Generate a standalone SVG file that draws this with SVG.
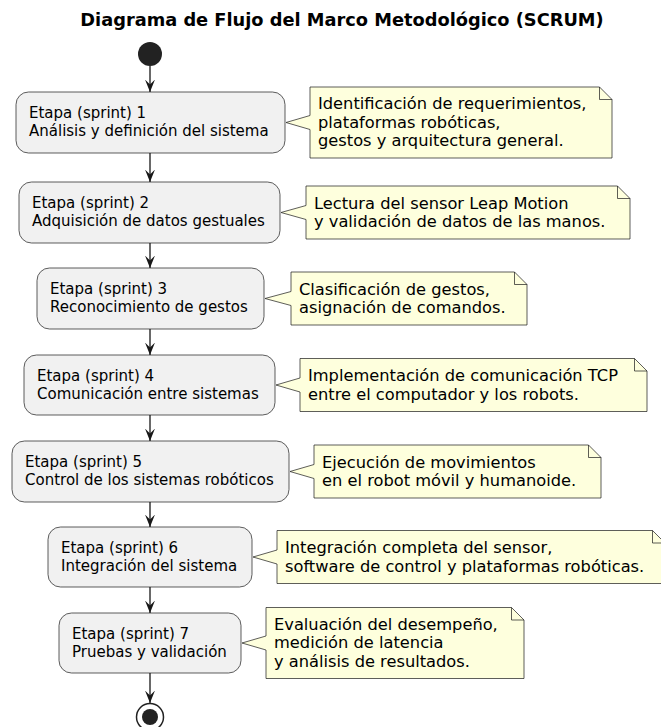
<svg xmlns="http://www.w3.org/2000/svg" width="661" height="727" viewBox="0 0 661 727">
<defs>
<style>
.title{font-family:"DejaVu Sans","Liberation Sans",sans-serif;font-size:17.8px;font-weight:bold;fill:#000}
.act{fill:#F1F1F1;stroke:#181818;stroke-width:0.7}
.at{font-family:"DejaVu Sans","Liberation Sans",sans-serif;font-size:15px;fill:#000}
.note{fill:#FEFFDD;stroke:#181818;stroke-width:0.7}
.nt{font-family:"DejaVu Sans","Liberation Sans",sans-serif;font-size:16.25px;fill:#000}
.fold{fill:none;stroke:#181818;stroke-width:0.7}
.edge{stroke:#181818;stroke-width:1.3;fill:none}
</style>
<marker id="ah" markerUnits="userSpaceOnUse" markerWidth="14" markerHeight="12" viewBox="0 0 14 12" refX="12.5" refY="6" orient="auto">
<path d="M0,1 L12.5,6 L0,11 L5,6 Z" fill="#181818"/>
</marker>
</defs>
<rect width="661" height="727" fill="#FFFFFF"/>
<text class="title" x="342" y="26" text-anchor="middle">Diagrama de Flujo del Marco Metodológico (SCRUM)</text>

<g id="start"><circle cx="150" cy="54" r="12" fill="#222222"/></g>

<g id="connectors">
<line class="edge" x1="150" y1="66" x2="150" y2="92" marker-end="url(#ah)"/>
<line class="edge" x1="150" y1="153" x2="150" y2="182" marker-end="url(#ah)"/>
<line class="edge" x1="150" y1="243" x2="150" y2="268" marker-end="url(#ah)"/>
<line class="edge" x1="150" y1="329" x2="150" y2="355" marker-end="url(#ah)"/>
<line class="edge" x1="150" y1="415" x2="150" y2="441" marker-end="url(#ah)"/>
<line class="edge" x1="150" y1="502" x2="150" y2="527" marker-end="url(#ah)"/>
<line class="edge" x1="150" y1="587" x2="150" y2="613" marker-end="url(#ah)"/>
<line class="edge" x1="150" y1="673" x2="150" y2="703" marker-end="url(#ah)"/>
</g>

<g id="sprint1">
<rect class="act" x="16" y="92" width="269" height="61" rx="12.5"/>
<text class="at" x="29" y="118">Etapa (sprint) 1</text>
<text class="at" x="29" y="136">Análisis y definición del sistema</text>
</g>
<g id="note1">
<path class="note" d="M310,87 L599.5,87 L612,99.5 L612,158 L310,158 L310,129.5 L286,122.5 L310,115.5 Z"/>
<path class="fold" d="M599.5,87 L599.5,99.5 L612,99.5"/>
<text class="nt" x="318" y="109">Identificación de requerimientos,</text>
<text class="nt" x="318" y="127.5">plataformas robóticas,</text>
<text class="nt" x="318" y="146">gestos y arquitectura general.</text>
</g>

<g id="sprint2">
<rect class="act" x="19" y="182" width="261" height="61" rx="12.5"/>
<text class="at" x="32" y="208">Etapa (sprint) 2</text>
<text class="at" x="32" y="226">Adquisición de datos gestuales</text>
</g>
<g id="note2">
<path class="note" d="M306,186 L617.5,186 L630,198.5 L630,239 L306,239 L306,219.5 L281,212.5 L306,205.5 Z"/>
<path class="fold" d="M617.5,186 L617.5,198.5 L630,198.5"/>
<text class="nt" x="314" y="208.5">Lectura del sensor Leap Motion</text>
<text class="nt" x="314" y="227">y validación de datos de las manos.</text>
</g>

<g id="sprint3">
<rect class="act" x="37" y="268" width="227" height="61" rx="12.5"/>
<text class="at" x="50" y="294">Etapa (sprint) 3</text>
<text class="at" x="50" y="312">Reconocimiento de gestos</text>
</g>
<g id="note3">
<path class="note" d="M291,272 L514.5,272 L527,284.5 L527,325 L291,325 L291,305.5 L265,298.5 L291,291.5 Z"/>
<path class="fold" d="M514.5,272 L514.5,284.5 L527,284.5"/>
<text class="nt" x="299" y="294.5">Clasificación de gestos,</text>
<text class="nt" x="299" y="313">asignación de comandos.</text>
</g>

<g id="sprint4">
<rect class="act" x="24" y="355" width="251" height="60" rx="12.5"/>
<text class="at" x="37" y="381">Etapa (sprint) 4</text>
<text class="at" x="37" y="399">Comunicación entre sistemas</text>
</g>
<g id="note4">
<path class="note" d="M300,358.5 L634.5,358.5 L647,371 L647,411.5 L300,411.5 L300,392 L276,385 L300,378 Z"/>
<path class="fold" d="M634.5,358.5 L634.5,371 L647,371"/>
<text class="nt" x="308" y="381">Implementación de comunicación TCP</text>
<text class="nt" x="308" y="399.5">entre el computador y los robots.</text>
</g>

<g id="sprint5">
<rect class="act" x="12" y="441" width="277" height="61" rx="12.5"/>
<text class="at" x="25" y="467">Etapa (sprint) 5</text>
<text class="at" x="25" y="485">Control de los sistemas robóticos</text>
</g>
<g id="note5">
<path class="note" d="M314,445 L588.5,445 L601,457.5 L601,498 L314,498 L314,478.5 L290,471.5 L314,464.5 Z"/>
<path class="fold" d="M588.5,445 L588.5,457.5 L601,457.5"/>
<text class="nt" x="322" y="467.5">Ejecución de movimientos</text>
<text class="nt" x="322" y="486">en el robot móvil y humanoide.</text>
</g>

<g id="sprint6">
<rect class="act" x="48" y="527" width="204" height="60" rx="12.5"/>
<text class="at" x="61" y="553">Etapa (sprint) 6</text>
<text class="at" x="61" y="571">Integración del sistema</text>
</g>
<g id="note6">
<path class="note" d="M277,530.5 L652.5,530.5 L665,543 L665,583.5 L277,583.5 L277,564 L253,557 L277,550 Z"/>
<path class="fold" d="M652.5,530.5 L652.5,543 L665,543"/>
<text class="nt" x="285" y="553">Integración completa del sensor,</text>
<text class="nt" x="285" y="571.5">software de control y plataformas robóticas.</text>
</g>

<g id="sprint7">
<rect class="act" x="59" y="613" width="182" height="60" rx="12.5"/>
<text class="at" x="72" y="639">Etapa (sprint) 7</text>
<text class="at" x="72" y="657">Pruebas y validación</text>
</g>
<g id="note7">
<path class="note" d="M266,607.5 L511.5,607.5 L524,620 L524,678.5 L266,678.5 L266,650 L242,643 L266,636 Z"/>
<path class="fold" d="M511.5,607.5 L511.5,620 L524,620"/>
<text class="nt" x="274" y="629.5">Evaluación del desempeño,</text>
<text class="nt" x="274" y="648">medición de latencia</text>
<text class="nt" x="274" y="666.5">y análisis de resultados.</text>
</g>

<g id="end">
<circle cx="150" cy="717" r="13.5" fill="#FFFFFF" stroke="#222222" stroke-width="1.5"/>
<circle cx="150" cy="717" r="8" fill="#222222"/>
</g>
</svg>
